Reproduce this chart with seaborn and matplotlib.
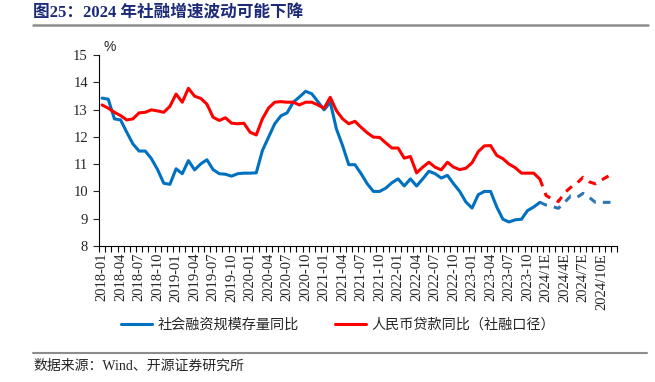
import numpy as np
import pandas as pd
import matplotlib
matplotlib.use("Agg")
import matplotlib.pyplot as plt
import seaborn as sns
from matplotlib.lines import Line2D

# monthly data, 2018-01 .. 2023-12 actual, 2023-12 .. 2024-12 forecast
months = pd.period_range("2018-01", "2024-12", freq="M").strftime("%Y-%m").tolist()

tick_labels = ["2018-01", "2018-04", "2018-07", "2018-10",
               "2019-01", "2019-04", "2019-07", "2019-10",
               "2020-01", "2020-04", "2020-07", "2020-10",
               "2021-01", "2021-04", "2021-07", "2021-10",
               "2022-01", "2022-04", "2022-07", "2022-10",
               "2023-01", "2023-04", "2023-07", "2023-10",
               "2024/1E", "2024/4E", "2024/7E", "2024/10E"]

tsf_actual = [13.42, 13.38, 12.66, 12.62, 12.17, 11.74, 11.48, 11.48, 11.20, 10.80, 10.30, 10.26,
              10.83, 10.65, 11.13, 10.79, 11.01, 11.16, 10.80, 10.65, 10.63, 10.56, 10.65, 10.67,
              10.67, 10.68, 11.50, 11.99, 12.48, 12.77, 12.88, 13.27, 13.46, 13.67, 13.58, 13.29,
              12.99, 13.27, 12.29, 11.68, 10.98, 10.98, 10.65, 10.28, 10.00, 10.00, 10.12, 10.32,
              10.46, 10.20, 10.46, 10.20, 10.46, 10.74, 10.65, 10.49, 10.59, 10.28, 10.00, 9.61,
              9.39, 9.88, 10.00, 10.00, 9.43, 8.98, 8.88, 8.96, 8.98, 9.30, 9.43, 9.60]

loan_actual = [13.17, 13.05, 12.90, 12.78, 12.62, 12.66, 12.88, 12.90, 12.99, 12.95, 12.90, 13.12,
               13.57, 13.27, 13.78, 13.49, 13.41, 13.20, 12.72, 12.60, 12.70, 12.50, 12.48, 12.50,
               12.17, 12.07, 12.66, 13.06, 13.27, 13.29, 13.27, 13.27, 13.17, 13.27, 13.27, 13.17,
               13.05, 13.45, 12.96, 12.66, 12.48, 12.57, 12.35, 12.15, 11.99, 11.98, 11.78, 11.59,
               11.59, 11.22, 11.28, 10.68, 10.89, 11.07, 10.89, 10.79, 11.07, 10.89, 10.80, 10.85,
               11.05, 11.46, 11.67, 11.68, 11.32, 11.20, 11.00, 10.87, 10.67, 10.67, 10.67, 10.45]

tsf_forecast = [9.60, 9.50, 9.45, 9.38, 9.60, 9.83, 9.78, 9.93, 9.78, 9.60, 9.60, 9.60, 9.60]
loan_forecast = [10.45, 9.85, 9.72, 9.63, 9.95, 10.15, 10.30, 10.52, 10.35, 10.28, 10.42, 10.55, 10.68]

BLUE = "#0070C0"
BLUE_E = "#2E75B6"
RED = "#FF0000"

n_act = len(tsf_actual)
act = pd.DataFrame({"pos": np.arange(n_act), "tsf": tsf_actual, "loan": loan_actual})
fc = pd.DataFrame({"pos": np.arange(n_act - 1, len(months)), "tsf": tsf_forecast, "loan": loan_forecast})

sns.set_style("ticks")
plt.rcParams["font.family"] = ["Liberation Serif", "Noto Sans CJK SC", "DejaVu Sans"]
plt.rcParams["axes.unicode_minus"] = False

fig = plt.figure(figsize=(6.55, 3.82), dpi=100)
ax = fig.add_axes([99 / 655, 1 - 246 / 382, 518 / 655, 191 / 382])

lw = 2.2
sns.lineplot(data=act, x="pos", y="tsf", color=BLUE, lw=lw, ax=ax, label="社会融资规模存量同比")
sns.lineplot(data=act, x="pos", y="loan", color=RED, lw=lw, ax=ax, label="人民币贷款同比（社融口径）")
sns.lineplot(data=fc, x="pos", y="tsf", color=BLUE_E, lw=lw, ax=ax, linestyle=(0, (2.5, 2.3)), legend=False)
sns.lineplot(data=fc, x="pos", y="loan", color=RED, lw=lw, ax=ax, linestyle=(0, (2.5, 2.3)), legend=False)

ax.set_xlim(-0.5, len(months) - 0.5)
ax.set_ylim(8, 15)
ax.set_yticks(range(8, 16))
# a label every third month
label_pos = [i * 3 for i in range(len(tick_labels))]
ax.set_xticks(label_pos)
ax.set_xticklabels(tick_labels, rotation=90, fontsize=10.5)
ax.set_xticks(np.arange(-0.5, len(months)), minor=True)
ax.tick_params(axis="x", which="major", length=0, pad=5)
ax.tick_params(axis="x", which="minor", length=4, width=0.8, direction="out", color="black")
ax.tick_params(axis="y", length=4, width=0.8, direction="out", labelsize=10.5, pad=4)
ax.set_xlabel("")
ax.set_ylabel("")
for s in ["top", "right"]:
    ax.spines[s].set_visible(False)
for s in ["left", "bottom"]:
    ax.spines[s].set_color("black")
    ax.spines[s].set_linewidth(0.8)
ax.grid(False)

handles, labels = ax.get_legend_handles_labels()
ax.get_legend().remove()
fig.legend(handles, labels, loc="center", bbox_to_anchor=(338 / 655, 1 - 325 / 382), ncol=2,
           frameon=False, handlelength=2.2, columnspacing=2.5, handletextpad=0.4,
           prop={"family": ["Noto Sans CJK SC"], "size": 10.2})

fig.text(110 / 655, 1 - 47 / 382, "%", ha="center", va="center", fontsize=10,
         family=["Liberation Sans"])

fig.text(33 / 655, 1 - 13 / 382, "图25：2024 年社融增速波动可能下降", ha="left", va="center",
         fontsize=12, fontweight="bold", color="#1c2a78",
         family=["Liberation Serif", "Noto Sans CJK SC"])
fig.add_artist(Line2D([33 / 655, 648 / 655], [1 - 25 / 382] * 2, color="#8c8c8c", lw=1.8))
fig.add_artist(Line2D([33 / 655, 647 / 655], [1 - 352.5 / 382] * 2, color="#8c8c8c", lw=1.5))
fig.text(33 / 655, 1 - 366 / 382, "数据来源：Wind、开源证券研究所", ha="left", va="center",
         fontsize=10, family=["Liberation Serif", "Noto Sans CJK SC"])

fig.savefig("out.png", dpi=100)
